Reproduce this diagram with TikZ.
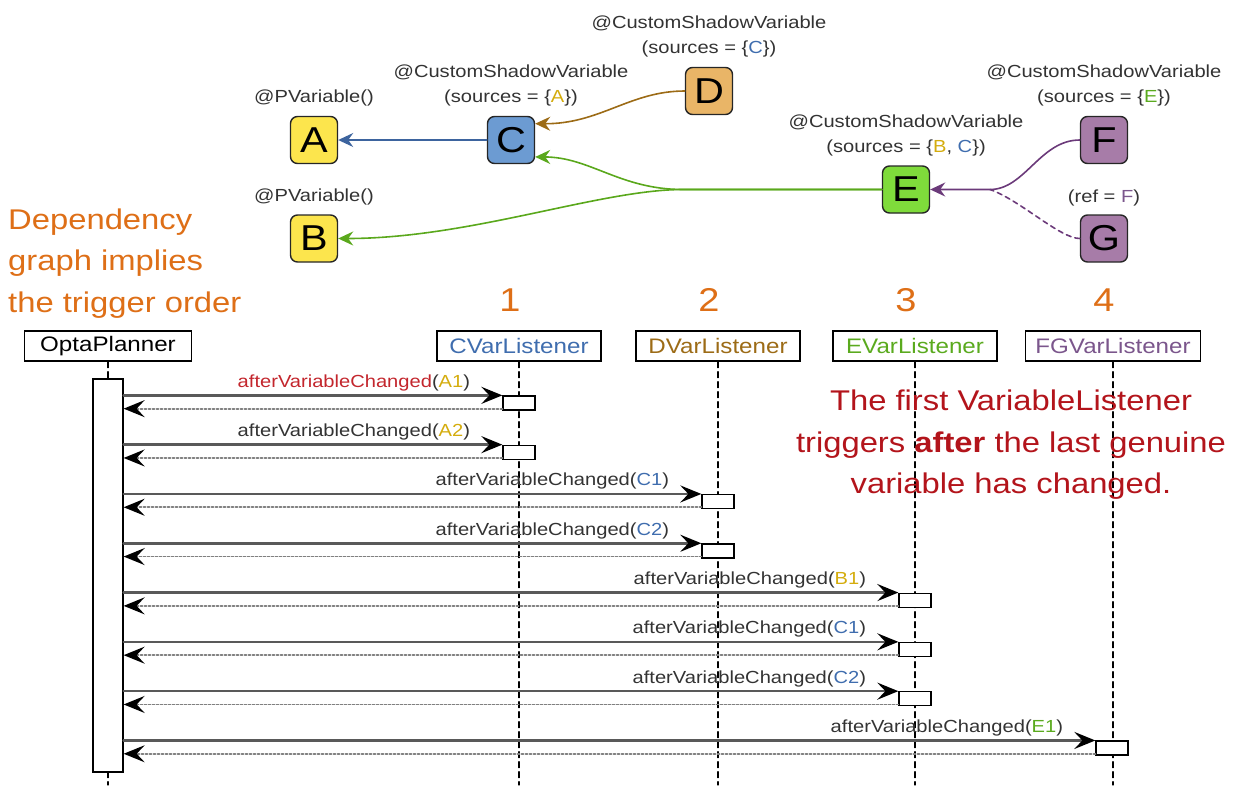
\documentclass[tikz,border=0pt]{standalone}
\usepackage{fontspec}
\setmainfont[FakeStretch=1.15]{Liberation Sans}
\usetikzlibrary{arrows.meta,positioning,calc}

\definecolor{varYellow}{HTML}{FCE54D}
\definecolor{varBlue}{HTML}{6C9BD2}
\definecolor{varOrange}{HTML}{E9B567}
\definecolor{varGreen}{HTML}{7FDB3B}
\definecolor{varPurple}{HTML}{A77CA8}
\definecolor{txtYellow}{HTML}{D4AC0D}
\definecolor{txtBlue}{HTML}{3F6DAE}
\definecolor{txtBrown}{HTML}{9C6B16}
\definecolor{txtGreen}{HTML}{5AAA1E}
\definecolor{txtPurple}{HTML}{7B568C}
\definecolor{edgeBlue}{HTML}{3D649E}
\definecolor{edgeGreen}{HTML}{5AA81C}
\definecolor{edgePurple}{HTML}{6B3A7A}
\definecolor{noteOrange}{HTML}{DE6F17}
\definecolor{noteRed}{HTML}{B3141B}
\definecolor{callRed}{HTML}{C3262D}

\begin{document}
\begin{tikzpicture}[x=1pt,y=1pt,line cap=round,
	>={Stealth[length=15pt,width=14pt,inset=5pt]},
	var/.style={draw=black!85,line width=1.4pt,rounded corners=7pt,minimum size=47pt,inner sep=0pt,font=\fontsize{36}{36}\selectfont},
	lbl/.style={inner sep=0pt,align=center,text=black!80,font=\fontsize{17.5}{25}\selectfont},
	edge/.style={line width=1.6pt},
	stepnum/.style={inner sep=0pt,text=noteOrange,font=\fontsize{33}{33}\selectfont},
	head/.style={draw,line width=1.3pt,minimum width=164pt,minimum height=30pt,inner sep=0pt,font=\fontsize{21}{21}\selectfont},
	lifeline/.style={line width=1.2pt,dash pattern=on 6pt off 4pt},
	act/.style={draw,fill=white,line width=1.3pt,minimum width=32pt,minimum height=14pt,inner sep=0pt},
	call/.style={line width=2.6pt,black!65,-{Stealth[length=21pt,width=17pt,inset=8pt,color=black]}},
	ret/.style={line width=1.8pt,black!50,dash pattern=on 1.8pt off 2.2pt,-{Stealth[length=21pt,width=17pt,inset=8pt,color=black]}},
	msg/.style={inner sep=0pt,anchor=base east,text=black!80,font=\fontsize{17.5}{17.5}\selectfont},
	note/.style={inner sep=0pt,font=\fontsize{28.5}{41.5}\selectfont}]
	
	\useasboundingbox (0,0) rectangle (1247,-785);
	
	% ---- dependency graph ----
	\node[var,fill=varYellow] (A) at (314,-140) {A};
	\node[var,fill=varYellow] (B) at (314,-238.5) {B};
	\node[var,fill=varBlue] (C) at (511,-140) {C};
	\node[var,fill=varOrange] (D) at (709,-91) {D};
	\node[var,fill=varGreen] (E) at (906,-189.5) {E};
	\node[var,fill=varPurple] (F) at (1104,-140) {F};
	\node[var,fill=varPurple] (G) at (1104,-238.5) {G};
	
	\node[lbl,above=9pt of A] (Alabel) {@PVariable()};
	\node[lbl,above=9pt of B] (Blabel) {@PVariable()};
	\node[lbl,above=9pt of C] (Clabel) {@CustomShadowVariable\\(sources = \{\textcolor{txtYellow}{A}\})};
	\node[lbl,above=9pt of D] (Dlabel) {@CustomShadowVariable\\(sources = \{\textcolor{txtBlue}{C}\})};
	\node[lbl,above=9pt of E] (Elabel) {@CustomShadowVariable\\(sources = \{\textcolor{txtYellow}{B}, \textcolor{txtBlue}{C}\})};
	\node[lbl,above=9pt of F] (Flabel) {@CustomShadowVariable\\(sources = \{\textcolor{txtGreen}{E}\})};
	\node[lbl,above=8pt of G] (Glabel) {(ref = \textcolor{txtPurple}{F})};
	
	\coordinate (Esplit) at (683,-189.5);
	\coordinate (FGjoin) at (990,-189.5);
	
	\draw[edge,->,edgeBlue] (C.west) -- (A.east);
	\draw[edge,->,txtBrown] (D.west) .. controls (630,-91) and (600,-124) .. (C.34);
	\draw[edge,->,edgeGreen] (E.west) -- (Esplit) .. controls (620,-189.5) and (590,-157) .. (C.-35);
	\draw[edge,->,edgeGreen] (E.west) -- (Esplit) .. controls (600,-189.5) and (470,-238.5) .. (B.east);
	\draw[edge,->,edgePurple] (F.west) .. controls (1040,-140) and (1025,-189.5) .. (FGjoin) -- (E.east);
	\draw[edge,edgePurple,dash pattern=on 5pt off 4pt] (G.west) .. controls (1060,-238.5) and (1020,-200) .. (FGjoin);
	
	\node[note,text=noteOrange,align=left,anchor=west] (depNote) at (8,-263.5) {Dependency\\graph implies\\the trigger order};
	
	\node[stepnum] (n1) at (510,-300) {1};
	\node[stepnum] (n2) at (709,-300) {2};
	\node[stepnum] (n3) at (906,-300) {3};
	\node[stepnum] (n4) at (1104,-300) {4};
	
	% ---- sequence diagram ----
	\node[head,minimum width=167pt] (opta) at (108,-346) {OptaPlanner};
	\node[head,text=txtBlue] (cl) at (519,-346) {CVarListener};
	\node[head,text=txtBrown] (dl) at (718,-346) {DVarListener};
	\node[head,text=txtGreen] (el) at (915,-346) {EVarListener};
	\node[head,text=txtPurple,inner xsep=10pt] (fgl) at (1113,-346) {FGVarListener};
	
	\foreach \h in {opta,cl,dl,el,fgl}
		\draw[lifeline] (\h.south) -- (\h.south |- 0,-785);
	
	\node[note,text=noteRed,align=center] (firstNote) at (1011,-445) {The first VariableListener\\triggers \textbf{after} the last genuine\\variable has changed.};
	
	\node[act,minimum width=30pt,minimum height=393pt] (optaAct) at (108,-575.5) {};
	
	\foreach \i/\lx/\fc/\arg/\argc in {0/519/callRed/A1/txtYellow,1/519/black!80/A2/txtYellow,
		2/718/black!80/C1/txtBlue,3/718/black!80/C2/txtBlue,4/915/black!80/B1/txtYellow,
		5/915/black!80/C1/txtBlue,6/915/black!80/C2/txtBlue,7/1112/black!80/E1/txtGreen}{
		\node[act] (act\i) at (\lx,{-403-49.3*\i}) {};
		\draw[call] (optaAct.east |- act\i.north) -- (act\i.north west)
			node[msg,xshift=-31pt,yshift=8pt] {\textcolor{\fc}{afterVariableChanged}(\textcolor{\argc}{\arg})};
		\draw[ret] ($(act\i.south west)+(0,2)$) coordinate (r\i) -- (optaAct.east |- r\i);
	}
	
\end{tikzpicture}
\end{document}
